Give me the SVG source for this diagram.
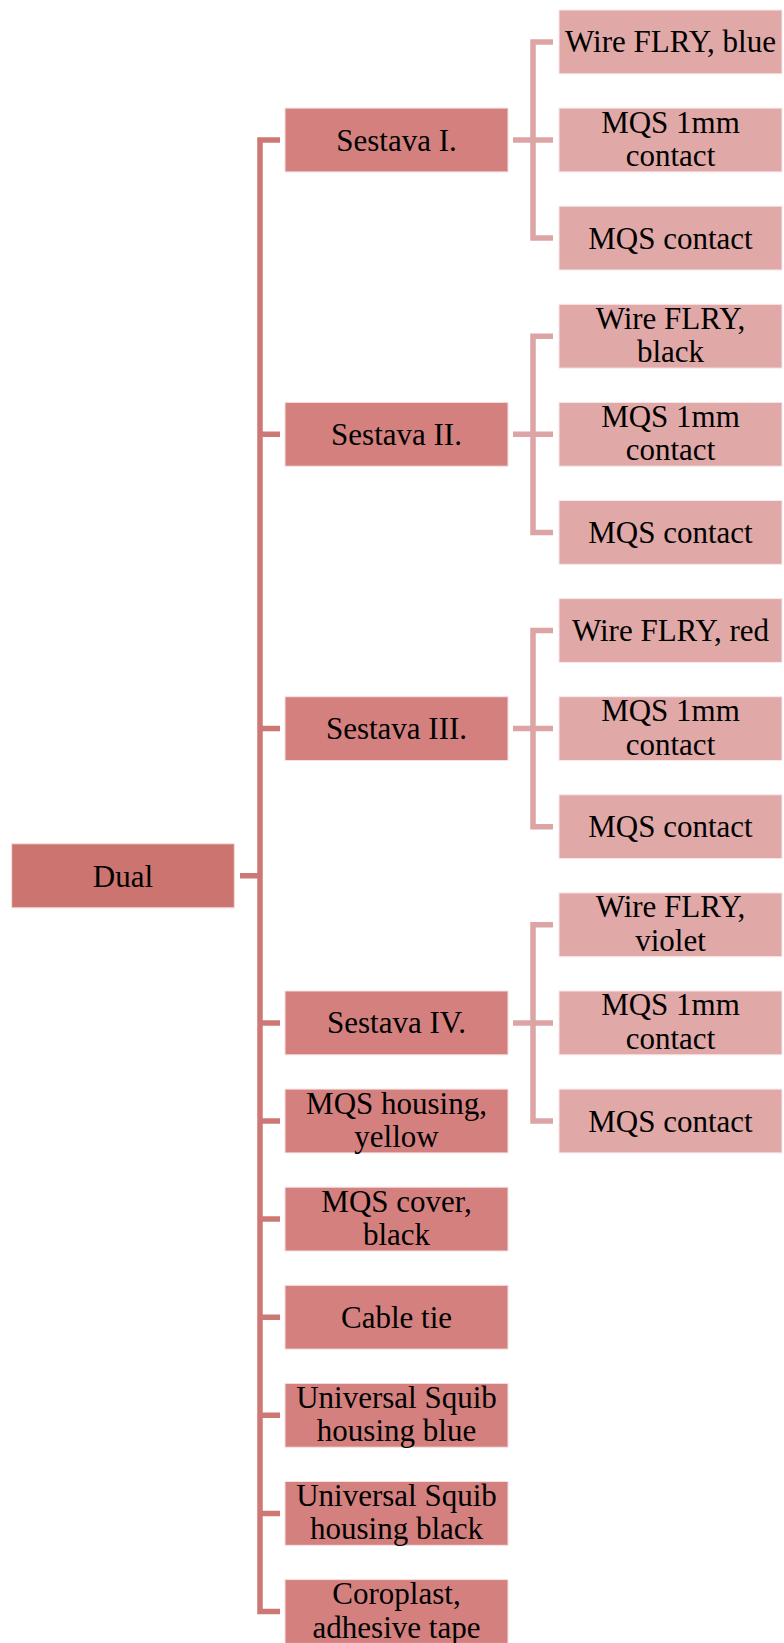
<svg xmlns="http://www.w3.org/2000/svg" width="784" height="1643" viewBox="0 0 784 1643">
<style>
.root{fill:#CC7470;stroke:#F3DCDB;stroke-width:1}
.l1{fill:#D4807F;stroke:#F6E0E0;stroke-width:1}
.leaf{fill:#E0A8A7;stroke:#F8E8E8;stroke-width:1}
text{font-family:"Liberation Serif","Times New Roman",serif;font-size:31px;fill:#000;text-anchor:middle}
.trunk{fill:none;stroke:#CD7875;stroke-width:5.5;stroke-linejoin:miter;stroke-linecap:butt}
.twig{fill:none;stroke:#DCA4A4;stroke-width:5.5;stroke-linejoin:miter;stroke-linecap:butt}
</style>
<rect width="784" height="1643" fill="#fff"/>
<g id="connectors">
<path class="trunk" d="M280,140 H260 V1611.5 H280"/>
<path class="trunk" d="M240,875.75 H260 M260,434.3 H280 M260,728.6 H280 M260,1022.9 H280 M260,1121 H280 M260,1219.1 H280 M260,1317.2 H280 M260,1415.3 H280 M260,1513.4 H280"/>
<path class="twig" d="M553,41.9 H533 V238.1 H553 M513,140 H553"/>
<path class="twig" d="M553,336.2 H533 V532.4 H553 M513,434.3 H553"/>
<path class="twig" d="M553,630.5 H533 V826.7 H553 M513,728.6 H553"/>
<path class="twig" d="M553,924.8 H533 V1121 H553 M513,1022.9 H553"/>
</g>
<g id="dual"><rect class="root" x="11.7" y="843.8" width="222.6" height="64"/><text x="123" y="886.5">Dual</text></g>
<g id="sestava1"><rect class="l1" x="285" y="108.1" width="223" height="63.8"/><text x="396.5" y="150.5">Sestava I.</text></g>
<g id="sestava2"><rect class="l1" x="285" y="402.4" width="223" height="63.8"/><text x="396.5" y="444.8">Sestava II.</text></g>
<g id="sestava3"><rect class="l1" x="285" y="696.7" width="223" height="63.8"/><text x="396.5" y="739.1">Sestava III.</text></g>
<g id="sestava4"><rect class="l1" x="285" y="991" width="223" height="63.8"/><text x="396.5" y="1033.4">Sestava IV.</text></g>
<g id="mqs-housing"><rect class="l1" x="285" y="1089.1" width="223" height="63.8"/><text x="396.5" y="1113.5">MQS housing,</text><text x="396.5" y="1147">yellow</text></g>
<g id="mqs-cover"><rect class="l1" x="285" y="1187.2" width="223" height="63.8"/><text x="396.5" y="1211.6">MQS cover,</text><text x="396.5" y="1245.1">black</text></g>
<g id="cable-tie"><rect class="l1" x="285" y="1285.3" width="223" height="63.8"/><text x="396.5" y="1327.7">Cable tie</text></g>
<g id="squib-blue"><rect class="l1" x="285" y="1383.4" width="223" height="63.8"/><text x="396.5" y="1407.8">Universal Squib</text><text x="396.5" y="1441.3">housing blue</text></g>
<g id="squib-black"><rect class="l1" x="285" y="1481.5" width="223" height="63.8"/><text x="396.5" y="1505.9">Universal Squib</text><text x="396.5" y="1539.4">housing black</text></g>
<g id="coroplast"><rect class="l1" x="285" y="1579.6" width="223" height="63.8"/><text x="396.5" y="1604">Coroplast,</text><text x="396.5" y="1637.5">adhesive tape</text></g>
<g id="leaf1a"><rect class="leaf" x="559" y="10" width="223" height="63.8"/><text x="670.5" y="52.4">Wire FLRY, blue</text></g>
<g id="leaf1b"><rect class="leaf" x="559" y="108.1" width="223" height="63.8"/><text x="670.5" y="132.5">MQS 1mm</text><text x="670.5" y="166">contact</text></g>
<g id="leaf1c"><rect class="leaf" x="559" y="206.2" width="223" height="63.8"/><text x="670.5" y="248.6">MQS contact</text></g>
<g id="leaf2a"><rect class="leaf" x="559" y="304.3" width="223" height="63.8"/><text x="670.5" y="328.7">Wire FLRY,</text><text x="670.5" y="362.2">black</text></g>
<g id="leaf2b"><rect class="leaf" x="559" y="402.4" width="223" height="63.8"/><text x="670.5" y="426.8">MQS 1mm</text><text x="670.5" y="460.3">contact</text></g>
<g id="leaf2c"><rect class="leaf" x="559" y="500.5" width="223" height="63.8"/><text x="670.5" y="542.9">MQS contact</text></g>
<g id="leaf3a"><rect class="leaf" x="559" y="598.6" width="223" height="63.8"/><text x="670.5" y="641">Wire FLRY, red</text></g>
<g id="leaf3b"><rect class="leaf" x="559" y="696.7" width="223" height="63.8"/><text x="670.5" y="721.1">MQS 1mm</text><text x="670.5" y="754.6">contact</text></g>
<g id="leaf3c"><rect class="leaf" x="559" y="794.8" width="223" height="63.8"/><text x="670.5" y="837.2">MQS contact</text></g>
<g id="leaf4a"><rect class="leaf" x="559" y="892.9" width="223" height="63.8"/><text x="670.5" y="917.3">Wire FLRY,</text><text x="670.5" y="950.8">violet</text></g>
<g id="leaf4b"><rect class="leaf" x="559" y="991" width="223" height="63.8"/><text x="670.5" y="1015.4">MQS 1mm</text><text x="670.5" y="1048.9">contact</text></g>
<g id="leaf4c"><rect class="leaf" x="559" y="1089.1" width="223" height="63.8"/><text x="670.5" y="1131.5">MQS contact</text></g>
</svg>
